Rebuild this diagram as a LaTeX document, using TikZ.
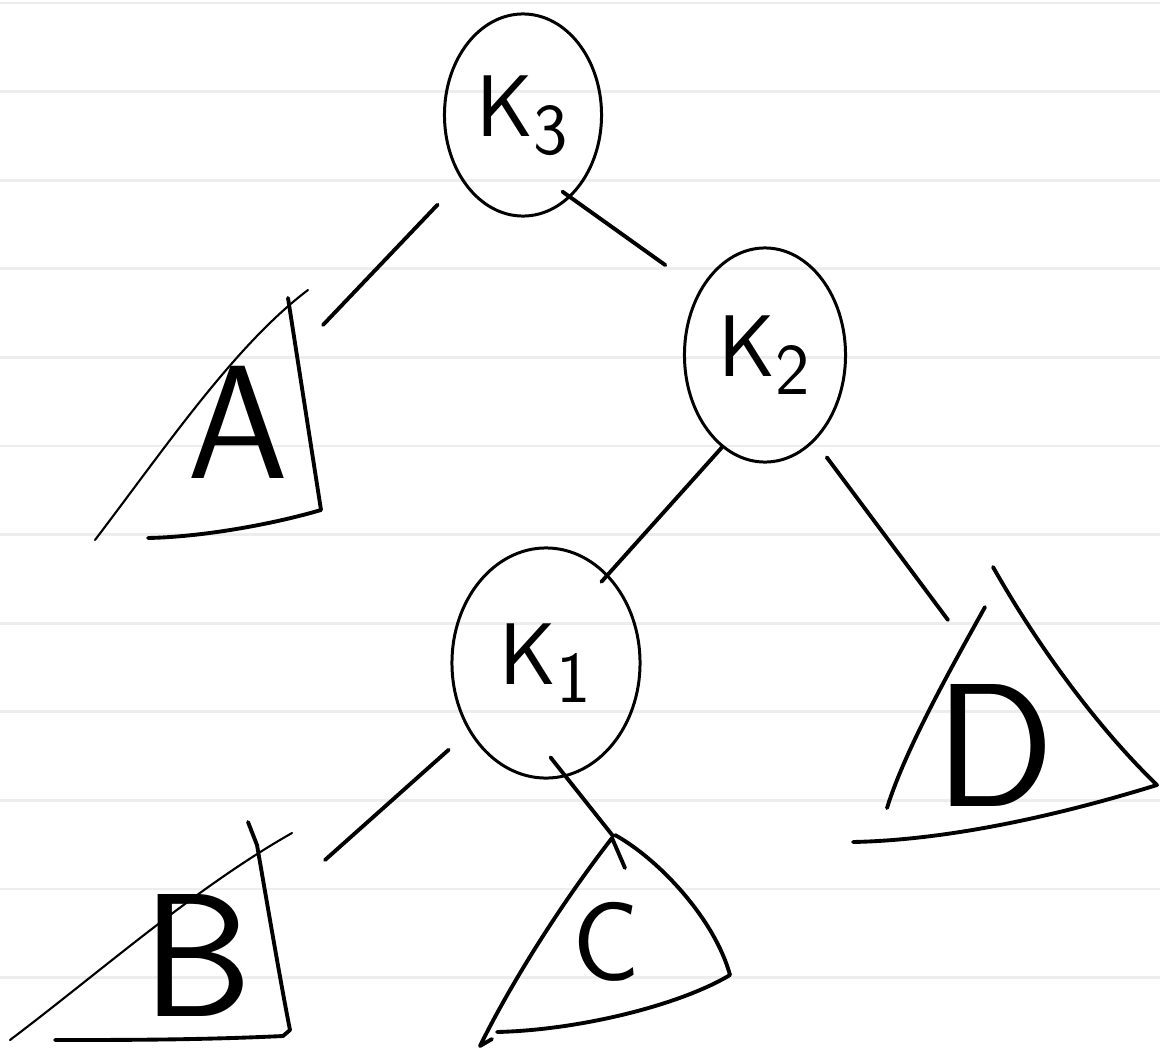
\documentclass[tikz,border=0pt]{standalone}
\usepackage{tikz}
\usetikzlibrary{shapes.geometric}

\begin{document}
\begin{tikzpicture}[
  x=0.01cm, y=-0.01cm,
  line cap=round, line join=round,
  key/.style={
    ellipse, draw=black, line width=0.85pt, inner sep=0pt,
    font=\fontsize{32}{36}\selectfont
  },
  sub/.style={inner sep=0pt, font=\sffamily},
  edge/.style={line width=1.1pt},
  side/.style={line width=0.6pt},
  rim/.style={line width=1.1pt},
  ruling/.style={black!7, line width=0.8pt}
]

\useasboundingbox (0,0) rectangle (1160,1051);

% ruled paper
\foreach \r in {0,...,11}
  \draw[ruling] (0,3+88.6*\r) -- (1160,3+88.6*\r);

% keys
\node[key, minimum width=1.57cm, minimum height=2.02cm] (K3) at (523,115) {$\mathsf{K}_{\mathsf{3}}$};
\node[key, minimum width=1.61cm, minimum height=2.14cm] (K2) at (765,355) {$\mathsf{K}_{\mathsf{2}}$};
\node[key, minimum width=1.88cm, minimum height=2.30cm] (K1) at (546,663) {$\mathsf{K}_{\mathsf{1}}$};

% subtree labels
\node[sub, font=\sffamily\fontsize{46}{50}\selectfont] (A) at (238,422) {A};
\node[sub, font=\sffamily\fontsize{50}{54}\selectfont] (B) at (198,955) {B};
\node[sub, font=\sffamily\fontsize{32}{34}\selectfont] (C) at (606,942) {C};
\node[sub, font=\sffamily\fontsize{50}{54}\selectfont] (D) at (995,745) {D};

% where the edges meet the subtrees
\coordinate (At) at (323,325);
\coordinate (Bt) at (325,860);
\coordinate (Ct) at (613,836);
\coordinate (Dt) at (948,620);

% subtree A
\draw[side] (95,540) .. controls (165,448) and (235,345) .. (308,290);
\draw[rim] (288,298) -- (321,510) .. controls (270,525) and (200,537) .. (148,538);

% subtree B
\draw[side] (10,1040) .. controls (100,972) and (195,888) .. (292,833);
\draw[rim] (248,822) -- (257,845) .. controls (270,920) and (282,990) .. (290,1030)
  -- (283,1036) .. controls (200,1040) and (120,1040) .. (55,1040);

% subtree C
\draw[rim] (625,868) -- (612,838) .. controls (560,905) and (510,985) .. (480,1046) -- (492,1039);
\draw[rim] (615,835) .. controls (660,860) and (715,920) .. (730,975)
  .. controls (680,1005) and (580,1030) .. (497,1032);

% subtree D
\draw[rim] (985,607) .. controls (950,670) and (905,750) .. (887,808);
\draw[rim] (993,567) .. controls (1040,650) and (1100,730) .. (1157,785)
  .. controls (1060,815) and (950,840) .. (853,842);

% edges
\draw[edge, shorten <=0.34cm] (K3) -- (At);
\draw[edge, shorten <=-0.1cm, shorten >=0.42cm] (K3.-60) -- (K2.135);
\draw[edge, shorten >=-0.1cm] (K2.-115) -- (K1.55);
\draw[edge, shorten <=0.2cm] (K2.-60) -- (Dt);
\draw[edge, shorten <=0.27cm] (K1) -- (Bt);
\draw[edge, shorten <=-0.25cm] (K1.-80) -- (Ct);

\end{tikzpicture}
\end{document}
